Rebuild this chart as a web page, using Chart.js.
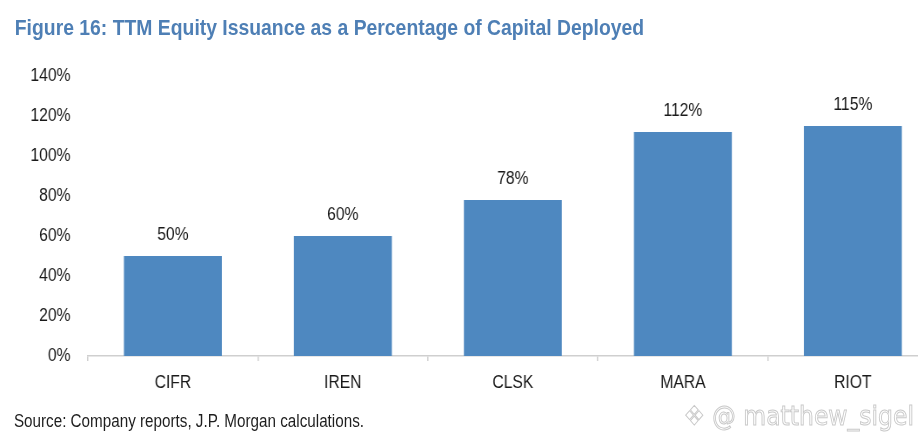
<!DOCTYPE html>
<html>
<head>
<meta charset="utf-8">
<script src="https://cdn.jsdelivr.net/npm/chart.js@4.4.1/dist/chart.umd.min.js"></script>
<style>
  html, body { margin: 0; padding: 0; background: #ffffff; width: 918px; height: 442px; overflow: hidden; }
  #stage { position: absolute; left: 0; top: 0; width: 1080px; height: 442px; transform: scaleX(0.87); transform-origin: 0 0; }
  #title { position: absolute; left: 17px; top: 17px; font: bold 22.25px "Liberation Sans", Arial, sans-serif; line-height: 1; color: #4e7fb5; white-space: nowrap; }
  #source { position: absolute; left: 16px; top: 413px; font: 17.5px "Liberation Sans", Arial, sans-serif; line-height: 1; color: #1e1e1e; white-space: nowrap; }
  #wm { position: absolute; left: 786px; top: 402px; font: 27px "DejaVu Sans", "Liberation Sans", sans-serif; line-height: 1; color: #ffffff; -webkit-text-stroke: 1px #c9c9c9; white-space: nowrap; }
  #chart { position: absolute; left: 0; top: 0; }
</style>
</head>
<body>
<div id="stage">
  <div id="title">Figure 16: TTM Equity Issuance as a Percentage of Capital Deployed</div>
  <canvas id="chart" width="1080" height="442"></canvas>
  <div id="source">Source: Company reports, J.P. Morgan calculations.</div>
  <div id="wm">❖ @ matthew_sigel</div>
</div>
<script>
const categories = ['CIFR', 'IREN', 'CLSK', 'MARA', 'RIOT'];
const equityIssuancePct = [50, 60, 78, 112, 115];
const yMin = 0;
const yMax = 140;
const yStep = 20;

const barLabels = {
  id: 'barLabels',
  afterDatasetsDraw(chart) {
    const ctx = chart.ctx;
    const meta = chart.getDatasetMeta(0);
    ctx.save();
    ctx.font = '18px "Liberation Sans", Arial, sans-serif';
    ctx.fillStyle = '#1a1a1a';
    ctx.textAlign = 'center';
    ctx.textBaseline = 'middle';
    meta.data.forEach((bar, i) => {
      ctx.fillText(equityIssuancePct[i] + '%', bar.x, bar.y - 21);
    });
    ctx.restore();
  }
};

new Chart(document.getElementById('chart'), {
  type: 'bar',
  data: {
    labels: categories,
    datasets: [{
      data: equityIssuancePct,
      backgroundColor: '#4e88c0',
      borderWidth: 0,
      categoryPercentage: 1.0,
      barPercentage: 0.576
    }]
  },
  options: {
    responsive: false,
    animation: false,
    layout: { padding: { top: 76, bottom: 46, left: 0, right: 2 } },
    plugins: { legend: { display: false }, tooltip: { enabled: false }, title: { display: false } },
    scales: {
      x: {
        grid: { display: true, drawOnChartArea: false, drawTicks: true, tickLength: 5, offset: true, color: '#cfcfcf', lineWidth: 1.5 },
        border: { display: true, color: '#cfcfcf', width: 1.5 },
        ticks: { color: '#1a1a1a', font: { family: '"Liberation Sans", Arial, sans-serif', size: 18 }, padding: 11, maxRotation: 0 },
        afterFit(scale) { scale.height = 40; }
      },
      y: {
        min: yMin,
        max: yMax,
        grid: { display: false, drawTicks: false },
        border: { display: false },
        ticks: {
          stepSize: yStep,
          color: '#1a1a1a',
          font: { family: '"Liberation Sans", Arial, sans-serif', size: 18 },
          padding: 20,
          callback: v => v + '%'
        },
        afterFit(scale) { scale.width = 101; }
      }
    }
  },
  plugins: [barLabels]
});
</script>
</body>
</html>
